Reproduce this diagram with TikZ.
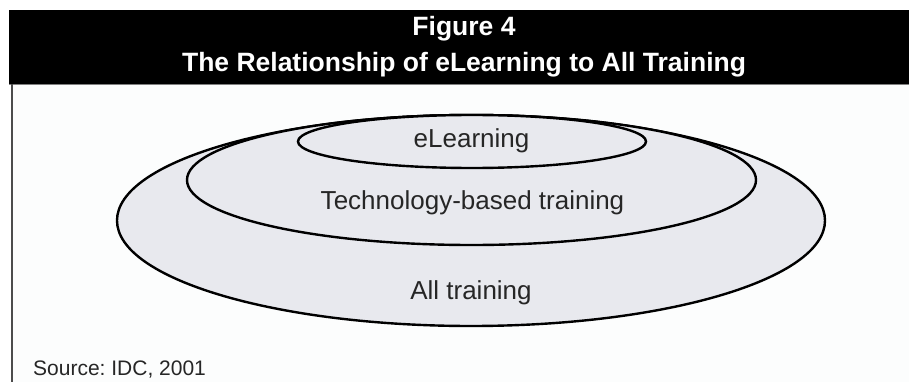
\documentclass[tikz,border=0pt]{standalone}
\usepackage{fontspec}
\setmainfont{Liberation Sans}
\usetikzlibrary{shapes.geometric}

\definecolor{ringfill}{HTML}{E8E9EE}
\definecolor{inkgray}{HTML}{262626}
\definecolor{paper}{HTML}{FCFDFD}

\tikzset{
  ring/.style={ellipse, draw=black, line width=2.4pt, fill=ringfill, inner sep=0pt},
  lbl/.style={anchor=base, text=inkgray, inner sep=0pt, font=\fontsize{26}{30}\selectfont},
  headline/.style={anchor=base, text=white, inner sep=0pt, font=\bfseries\fontsize{26.5}{36}\selectfont}
}

\begin{document}
\frenchspacing
\begin{tikzpicture}[x=1pt, y=-1pt]
     \useasboundingbox (0,0) rectangle (909,382);
     \fill[white] (0,0) rectangle (909,382);
     \fill[paper] (12,84) rectangle (909,382);
     % header band
     \fill[black] (9,10) rectangle (909,84);
     \draw[gray, line width=1pt] (9,84.5) -- (909,84.5);
     \draw[black!70, line width=1.5pt] (12,84) -- (12,382);
     \node[headline] (figno) at (464,36) {Figure 4};
     \node[headline] (title) at (464,72) {The Relationship of eLearning to All Training};
     % nested rings, largest first
     \node[ring, minimum width=708pt, minimum height=211pt] (all) at (471,220.5) {};
     \node[ring, minimum width=569pt, minimum height=130pt] (tbt) at (471.5,180) {};
     \node[ring, minimum width=348pt, minimum height=53pt] (elearn) at (472,141.5) {};
     \node[lbl] (elearnlbl) at (471.5,148) {eLearning};
     \node[lbl] (tbtlbl) at (472.5,209) {Technology-based training};
     \node[lbl] (alllbl) at (471,299) {All training};
     \node[anchor=base west, text=inkgray, inner sep=0pt, font=\fontsize{21}{25}\selectfont] (source) at (33,375) {Source: IDC, 2001};
    \end{tikzpicture}
\end{document}
